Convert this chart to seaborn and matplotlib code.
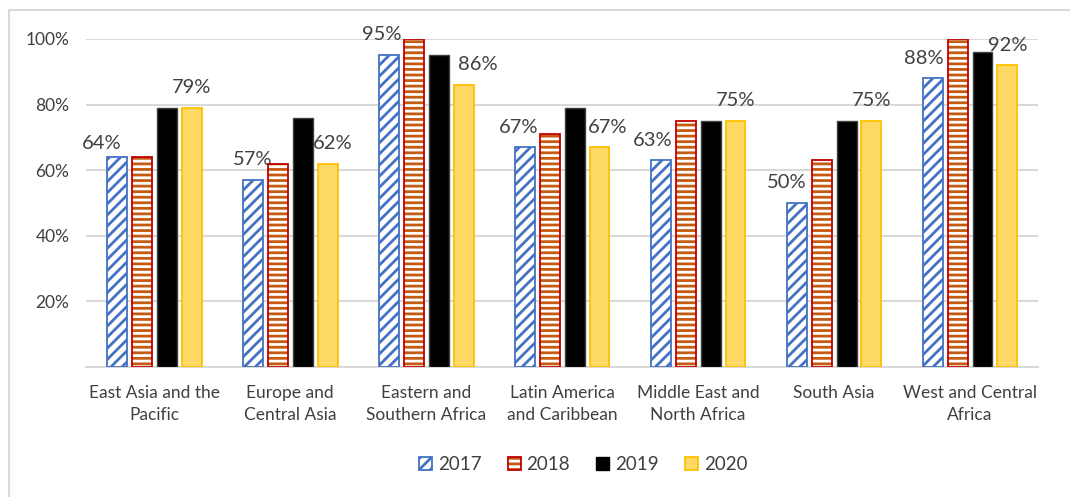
import numpy as np
import pandas as pd
import matplotlib.pyplot as plt
import matplotlib.patches as mpatches
from matplotlib.ticker import FuncFormatter
import seaborn as sns

# Values (percent)
regions = ['East Asia and the\nPacific', 'Europe and\nCentral Asia', 'Eastern and\nSouthern Africa',
           'Latin America\nand Caribbean', 'Middle East and\nNorth Africa', 'South Asia',
           'West and Central\nAfrica']
years = ['2017', '2018', '2019', '2020']
y2017 = [64, 57, 95, 67, 63, 50, 88]
y2018 = [64, 62, 100, 71, 75, 63, 100]
y2019 = [79, 76, 95, 79, 75, 75, 96]
y2020 = [79, 62, 86, 67, 75, 75, 92]
labelled_years = ['2017', '2020']

# hand-placed label nudges (points), like the moved labels in the original
label_dx = {'2017': [-11, 0, -5, -4, -6, -7, -6], '2020': [0, 4, 10, 6, 0, 0, 0]}
label_dy = {'2017': [6, 10.5, 11, 10.5, 10.5, 10.5, 10.5], '2020': [10.5] * 7}

df = pd.DataFrame({
    'region': regions * 4,
    'year': np.repeat(years, len(regions)),
    'value': y2017 + y2018 + y2019 + y2020,
})

sns.set_style('white')
plt.rcParams['font.family'] = ['Lato', 'DejaVu Sans']
plt.rcParams['hatch.linewidth'] = 2.0

text_col = '#404040'
grid_col = '#D9D9D9'

fig = plt.figure(figsize=(10.7, 4.97), dpi=100)
ax = fig.add_axes([0.0804, 0.2616, 0.8897, 0.66])

palette = {'2017': 'white', '2018': 'white', '2019': 'black', '2020': '#FFD966'}
sns.barplot(data=df, x='region', y='value', hue='year', palette=palette, saturation=1,
            width=0.735, gap=0.2, ax=ax, legend=False, zorder=3)

# style each series like the Excel original
c17, c18, c19, c20 = ax.containers
for p in c17:
    p.set_edgecolor('#4472C4')
    p.set_hatch('///')
    p.set_linewidth(1.3)
for p in c18:
    p.set_edgecolor('#C55A11')
    p.set_hatch('---')
    p.set_linewidth(0)
    ax.add_patch(mpatches.Rectangle(p.get_xy(), p.get_width(), p.get_height(),
                                    fill=False, edgecolor='#C00000', lw=1.3, zorder=4))
for p in c19:
    p.set_edgecolor('#404040')
    p.set_linewidth(1.0)
for p in c20:
    p.set_edgecolor('#FFC000')
    p.set_linewidth(1.3)

# data labels on 2017 and 2020 only
for cont, yr in zip(ax.containers, years):
    if yr not in labelled_years:
        continue
    for i, p in enumerate(cont):
        ax.annotate(f'{p.get_height():.0f}%', (p.get_x() + p.get_width() / 2, p.get_height()),
                    xytext=(label_dx[yr][i], label_dy[yr][i]), textcoords='offset points',
                    ha='center', va='baseline', fontsize=14.5, color=text_col)

ax.set_ylim(0, 100)
ax.set_yticks([20, 40, 60, 80, 100])
ax.yaxis.set_major_formatter(FuncFormatter(lambda v, _: f'{v:.0f}%'))
ax.yaxis.grid(True, color=grid_col, lw=1.5, zorder=0)
ax.set_axisbelow(True)
ax.set_xlim(-0.5, len(regions) - 0.5)
for s in ['top', 'right', 'left']:
    ax.spines[s].set_visible(False)
ax.spines['bottom'].set_color(grid_col)
ax.spines['bottom'].set_linewidth(1.5)
ax.tick_params(axis='both', length=0, labelsize=12.5, colors=text_col)
ax.tick_params(axis='y', pad=12)
ax.tick_params(axis='x', pad=13)
for t in ax.get_xticklabels():
    t.set_linespacing(1.45)
ax.set_xlabel('')
ax.set_ylabel('')

handles = [
    mpatches.Patch(facecolor='white', edgecolor='#4472C4', hatch='///', lw=1.3),
    (mpatches.Patch(facecolor='white', edgecolor='#C55A11', hatch='---', lw=0),
     mpatches.Patch(fill=False, edgecolor='#C00000', lw=1.3)),
    mpatches.Patch(facecolor='black', edgecolor='black'),
    mpatches.Patch(facecolor='#FFD966', edgecolor='#FFC000', lw=1.3),
]
leg = fig.legend(handles, years, loc='center', bbox_to_anchor=(0.545, 0.066), ncol=4,
                 frameon=False, fontsize=13.5, handlelength=0.7, handleheight=0.7,
                 handletextpad=0.3, columnspacing=1.4)
for t in leg.get_texts():
    t.set_color(text_col)

# chart area border (cropped on right and bottom in the reference)
fig.add_artist(mpatches.Rectangle((9 / 1070, -0.1), 1.2, 1 - 10 / 497 + 0.1,
                                  transform=fig.transFigure, fill=False,
                                  edgecolor=grid_col, lw=1.5))

fig.savefig('out.png', dpi=100)
